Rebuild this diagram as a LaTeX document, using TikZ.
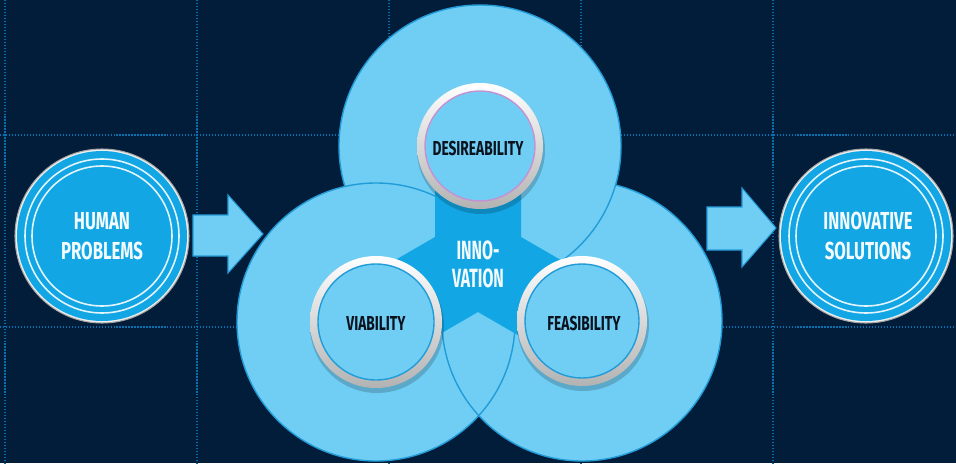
\documentclass[tikz,border=0pt]{standalone}
\usepackage{fontspec}
\newfontfamily\panelfont[FakeStretch=0.68]{Fira Sans}
\newfontfamily\narrowfont[FakeStretch=0.6]{Fira Sans}

\definecolor{navy}{RGB}{2,29,58}
\definecolor{gridblue}{RGB}{10,112,175}
\definecolor{sky}{RGB}{112,206,245}
\definecolor{deepsky}{RGB}{18,166,228}
\definecolor{edgeblue}{RGB}{34,156,215}
\definecolor{lilac}{RGB}{196,146,212}
\definecolor{ink}{RGB}{10,18,30}

\tikzset{
    gridline/.style={gridblue, densely dotted, line width=0.7pt},
    lobe/.style={fill=sky, draw=edgeblue, line width=0.8pt},
    blockarrow/.style={fill=sky, draw=edgeblue, line width=0.6pt},
    ring/.style={top color=white, bottom color=gray!60},
    ringshadow/.style={fill=black, opacity=0.18},
    badge/.style={fill=deepsky},
    badgeline/.style={draw=white!80!sky, line width=0.9pt},
    whitetext/.style={font=\panelfont\bfseries\fontsize{14}{17}\selectfont, text=white!92!sky, align=center},
    darktext/.style={font=\panelfont\bfseries\fontsize{11.5}{13}\selectfont, text=ink, align=center}
}

\begin{document}
\begin{tikzpicture}[x=0.02cm, y=-0.02cm]

    \useasboundingbox (0,0) rectangle (956,463);
    \fill[navy] (0,0) rectangle (956,463);

    % --------------------
    % Grade pontilhada
    % --------------------
    \foreach \x in {5,197,389,581,773}
        \draw[gridline] (\x,0) -- (\x,463);
    \foreach \y in {135,327}
        \draw[gridline] (0,\y) -- (956,\y);

    % Centros
    \coordinate (des) at (480,146);
    \coordinate (via) at (376,322);
    \coordinate (fea) at (582,321);
    \coordinate (hp)  at (102,236);
    \coordinate (is)  at (866,236);

    % --------------------
    % Tres circulos grandes
    % --------------------
    \filldraw[lobe] (fea) circle [radius=140];
    \filldraw[lobe] (des) circle [radius=141];
    \filldraw[lobe] (via) circle [radius=139];
    \begin{scope}
        \clip (via) circle [radius=139];
        \draw[lobe, fill=none] (fea) circle [radius=140];
    \end{scope}

    % Estrela central
    \fill[deepsky]
    (435,146) --
    (435,237) --
    (340,292) --
    (383,367) --
    (478,312) --
    (573,367) --
    (616,292) --
    (521,237) --
    (521,146) -- cycle;

    % Aneis
    \foreach \c/\r/\ln in {des/63/lilac, via/66/edgeblue, fea/65/edgeblue} {
        \fill[ringshadow] ([shift={(1,4)}]\c) circle [radius=\r+1];
        \shade[ring] (\c) circle [radius=\r];
        \filldraw[fill=sky, draw=\ln, line width=0.8pt] (\c) circle [radius=\r-8];
    }

    % --------------------
    % Entrada e saida
    % --------------------
    \foreach \c in {hp,is} {
        \fill[white!88!gray] (\c) circle [radius=87];
        \draw[gray!70, line width=0.6pt] (\c) circle [radius=87];
        \fill[badge] (\c) circle [radius=85];
        \draw[badgeline] (\c) circle [radius=77];
        \draw[badgeline] (\c) circle [radius=70];
    }

    % Setas
    \filldraw[blockarrow]
    (193,215) -- (228,215) -- (228,195) -- (263,234) --
    (228,273) -- (228,256) -- (193,256) -- cycle;
    \filldraw[blockarrow]
    (707,207) -- (742,207) -- (742,188) -- (776,228) --
    (742,267) -- (742,250) -- (707,250) -- cycle;

    % Textos
    \node[whitetext] (human) at (hp) {HUMAN\\PROBLEMS};
    \node[whitetext] (solutions) at ([shift={(2,0)}]is) {INNOVATIVE\\SOLUTIONS};
    \node[whitetext, font=\narrowfont\bfseries\fontsize{15}{16}\selectfont] (innov) at (478,264) {INNO-\\VATION};
    \node[darktext] (desire) at ([shift={(-2,2)}]des) {DESIREABILITY};
    \node[darktext] (viab) at ([shift={(0,1)}]via) {VIABILITY};
    \node[darktext] (feas) at ([shift={(2,2)}]fea) {FEASIBILITY};

\end{tikzpicture}
\end{document}
